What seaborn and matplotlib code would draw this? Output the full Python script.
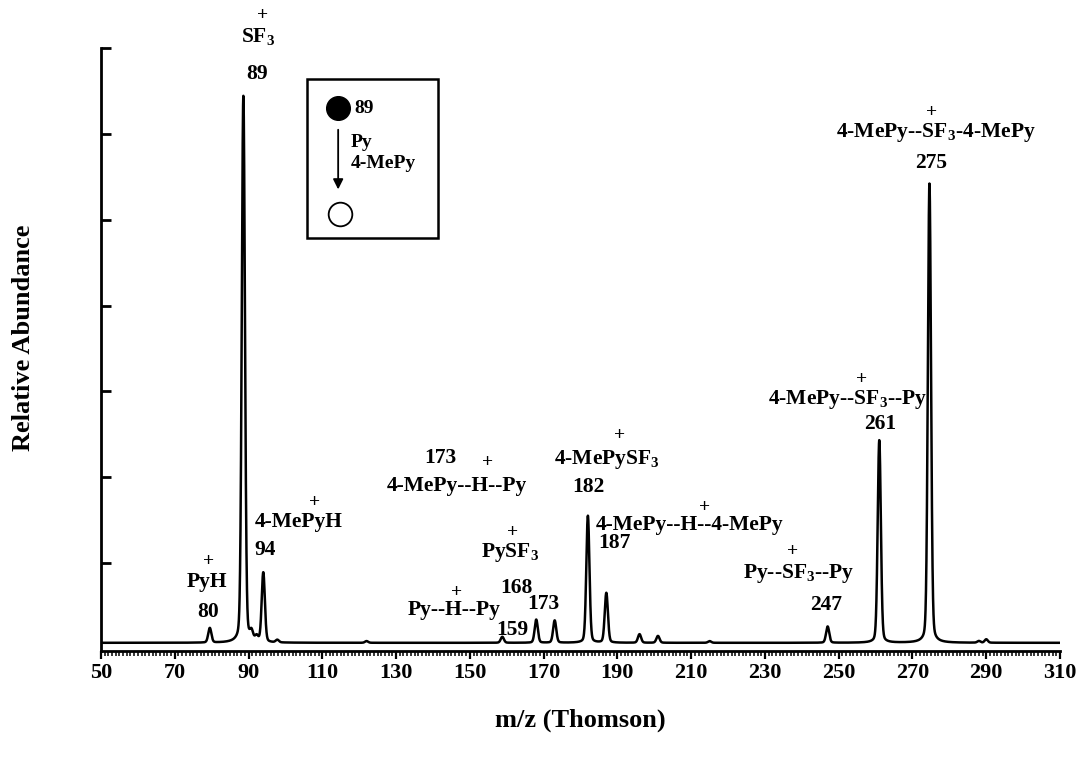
import numpy as np
import pandas as pd
import seaborn as sns
import matplotlib.pyplot as plt
from matplotlib.patches import Rectangle

# === Peak list (m/z, height above baseline, % scale) ===
peak_mz = [79.5, 88.6, 90.8, 92.2, 94.0, 97.8, 122.0, 158.8, 168.0, 173.0, 182.0, 187.0,
           196.0, 201.0, 215.0, 247.0, 261.0, 274.6, 288.0, 290.0]
peak_height = [1.7, 63.7, 1.0, 0.6, 8.1, 0.3, 0.2, 0.7, 2.7, 2.6, 14.8, 5.8,
               1.0, 0.8, 0.2, 1.9, 23.6, 53.5, 0.2, 0.4]
baseline = 0.7

x_ticks = [50, 70, 90, 110, 130, 150, 170, 190, 210, 230, 250, 270, 290, 310]
y_ticks = [10, 20, 30, 40, 50, 60, 70]

# === Build the profile from the peak list ===
mz = np.arange(50, 310.01, 0.02)
signal = np.full_like(mz, baseline)
for c, h in zip(peak_mz, peak_height):
    g = np.exp(-0.5 * ((mz - c) / 0.42) ** 2)
    lor = 1.0 / (1.0 + ((mz - c) / 0.6) ** 2)
    signal += h * (0.85 * g + 0.15 * lor)
df = pd.DataFrame({"mz": mz, "intensity": signal})

# === Style ===
sns.set_theme(style="ticks")
plt.rcParams["font.family"] = ["Liberation Serif", "DejaVu Serif"]
plt.rcParams["font.weight"] = "bold"
plt.rcParams["mathtext.fontset"] = "custom"
plt.rcParams["mathtext.rm"] = "Liberation Serif:bold"
plt.rcParams["mathtext.it"] = "Liberation Serif:bold"
plt.rcParams["mathtext.bf"] = "Liberation Serif:bold"
for key in ["text.color", "axes.labelcolor", "axes.edgecolor", "xtick.color", "ytick.color"]:
    plt.rcParams[key] = "black"

fig = plt.figure(figsize=(10.8, 7.62), dpi=100)
ax = fig.add_axes([0.0935, 0.1457, 0.888, 0.7913])

sns.lineplot(data=df, x="mz", y="intensity", ax=ax, color="black", linewidth=1.8)

ax.set_xlim(50, 310)
ax.set_ylim(-0.25, 70)
ax.spines["top"].set_visible(False)
ax.spines["right"].set_visible(False)
ax.spines["left"].set_linewidth(2.0)
ax.spines["bottom"].set_linewidth(2.0)

ax.set_xticks(x_ticks)
ax.set_xticks(np.arange(50, 311, 1), minor=True)
ax.tick_params(axis="x", which="major", direction="out", length=6, width=1.6,
               labelsize=16, pad=3)
ax.tick_params(axis="x", which="minor", direction="out", length=3.5, width=1.1)
ax.set_yticks(y_ticks)
ax.set_yticklabels([])
ax.tick_params(axis="y", which="major", direction="in", length=7, width=2.0)
for lab in ax.get_xticklabels():
    lab.set_fontweight("bold")

ax.set_xlabel("m/z (Thomson)", fontsize=19, fontweight="bold", labelpad=18)
ax.set_ylabel("Relative Abundance", fontsize=19, fontweight="bold")
ax.yaxis.set_label_coords(-0.069, 0.519)

# === Peak annotations ===
kw = dict(ha="center", va="center", fontsize=15.5, fontweight="bold", clip_on=False)
labels = [
    (92.6, 71.3, "SF$_3$"), (92.3, 67.0, "89"),
    (78.7, 7.8, "PyH"), (79.0, 4.3, "80"),
    (103.7, 14.8, "4-MePyH"), (94.5, 11.5, "94"),
    (141.9, 22.2, "173"), (146.5, 19.0, "4-MePy--H--Py"),
    (145.7, 4.5, "Py--H--Py"), (161.4, 2.2, "159"),
    (160.9, 11.2, "PySF$_3$"), (162.5, 7.1, "168"),
    (169.8, 5.2, "173"),
    (187.2, 22.1, "4-MePySF$_3$"), (182.1, 18.8, "182"),
    (189.1, 12.3, "187"),
    (209.7, 14.4, "4-MePy--H--4-MePy"),
    (239.3, 8.8, "Py--SF$_3$--Py"), (246.6, 5.1, "247"),
    (252.5, 29.0, "4-MePy--SF$_3$--Py"), (261.2, 26.2, "261"),
    (276.4, 60.1, "4-MePy--SF$_3$-4-MePy"), (275.1, 56.6, "275"),
]
for x, y, s in labels:
    ax.text(x, y, s, **kw)

# charge signs above the ion formulas
plus_x = [93.9, 79.3, 107.8, 154.9, 146.5, 161.7, 190.5, 213.5, 237.6, 256.1, 275.3]
plus_y = [73.8, 10.2, 17.0, 21.7, 6.6, 13.6, 24.8, 16.5, 11.3, 31.4, 62.5]
for x, y in zip(plus_x, plus_y):
    ax.text(x, y, "+", ha="center", va="center", fontsize=14, fontweight="bold",
            clip_on=False)

# === Inset scheme ===
ax.add_patch(Rectangle((105.9, 47.9), 35.5, 18.5, fill=False, edgecolor="black",
                       linewidth=1.8, clip_on=False))
ax.scatter([114.3], [63.0], s=290, color="black", zorder=5)
ax.scatter([114.8], [50.7], s=290, facecolor="white", edgecolor="black",
           linewidth=1.3, zorder=5)
ax.annotate("", xy=(114.3, 53.2), xytext=(114.3, 60.8),
            arrowprops=dict(arrowstyle="-|>", color="black", lw=1.3,
                            mutation_scale=15))
ikw = dict(ha="left", va="center", fontsize=14, fontweight="bold")
ax.text(118.6, 63.0, "89", **ikw)
ax.text(117.6, 59.0, "Py", **ikw)
ax.text(117.6, 56.6, "4-MePy", **ikw)

plt.savefig("out.png", dpi=100)
